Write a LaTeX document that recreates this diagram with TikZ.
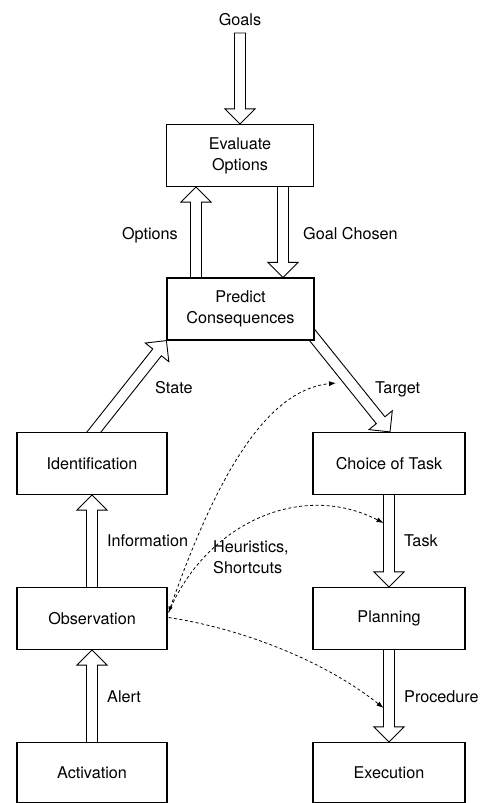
\documentclass[tikz,border=0pt]{standalone}
\usepackage{fontspec}
\setmainfont{TeX Gyre Heros}
\usetikzlibrary{calc,arrows.meta}
\pgfdeclarelayer{bg}
\pgfsetlayers{bg,main}
\newcommand{\hollowarr}[2]{%
  \coordinate (ha) at #1;
  \coordinate (hb) at #2;
  \coordinate (hc) at ($(hb)!15pt!(ha)$);
  \filldraw[harrow] ($(ha)!5.5pt!90:(hb)$) -- ($(hc)!5.5pt!90:(hb)$) -- ($(hc)!15pt!90:(hb)$) -- (hb) -- ($(hc)!15pt!-90:(hb)$) -- ($(hc)!5.5pt!-90:(hb)$) -- ($(ha)!5.5pt!-90:(hb)$) -- cycle;}
\tikzset{
  box/.style={draw, line width=1.2pt, fill=white, minimum width=150pt, minimum height=62pt, align=center, inner sep=0pt, font=\fontsize{16.2}{21}\selectfont},
  lbl/.style={font=\fontsize{16.2}{21}\selectfont, inner sep=0pt},
  harrow/.style={draw, fill=white, line width=0.9pt, line join=miter},
  shortcut/.style={dash pattern=on 3pt off 2.5pt, line width=0.8pt, -{Latex[length=7pt,width=5pt]}}
}
\begin{document}
\begin{tikzpicture}[x=1pt,y=-1pt]
\useasboundingbox (0,0) rectangle (482,803);
% boxes
\node[box, minimum width=147pt] (eval) at (240,155.5) {Evaluate\\Options};
\node[box, minimum width=147pt] (pred) at (240.5,309) {Predict\\Consequences};
\node[box] (ident) at (92,463.5) {Identification};
\node[box, minimum width=152pt] (choice) at (389,463.5) {Choice of Task};
\node[box] (obs) at (92,618.5) {Observation};
\node[box, minimum width=152pt] (plan) at (389,618.5) {Planning};
\node[box, minimum height=60pt] (act) at (92,772.5) {Activation};
\node[box, minimum width=152pt, minimum height=60pt] (exec) at (389,772.5) {Execution};
% labels
\node[lbl, anchor=base] (lgoals) at (240,25) {Goals};
\node[lbl, anchor=base east] (lopt) at (178,239) {Options};
\node[lbl, anchor=base west] (lgoal) at (303,239) {Goal Chosen};
\node[lbl, anchor=base west] (lstate) at (155,393) {State};
\node[lbl, anchor=base west] (ltarget) at (375,393) {Target};
\node[lbl, anchor=base west] (linfo) at (107,546) {Information};
\node[lbl, anchor=west, align=left] (lheur) at (213,557) {Heuristics,\\Shortcuts};
\node[lbl, anchor=base west] (ltask) at (404,546) {Task};
\node[lbl, anchor=base west] (lalert) at (107,702) {Alert};
\node[lbl, anchor=base west] (lproc) at (404,702) {Procedure};
% hollow arrows
\coordinate (goalstop) at (240,33);
\coordinate (sA) at ($(ident.north)+(2,0)$);
\coordinate (tA) at ($(pred.south east)+(2,0)$);
\coordinate (tB) at ($(choice.north)+(1,0)$);
\begin{pgfonlayer}{bg}
\hollowarr{(goalstop)}{(eval.north)}
\hollowarr{($(pred.north)+(-44.5,6)$)}{($(eval.south)+(-44,0)$)}
\hollowarr{($(eval.south)+(43,-6)$)}{($(pred.north)+(42.5,0)$)}
\hollowarr{($(pred.south west)!1.12!(sA)$)}{(pred.south west)}
\hollowarr{($(tB)!1.12!(tA)$)}{(tB)}
\hollowarr{($(choice.south)+(0,-6)$)}{(plan.north)}
\hollowarr{($(plan.south)+(0,-6)$)}{(exec.north)}
\hollowarr{($(obs.north)+(0,6)$)}{(ident.south)}
\hollowarr{($(act.north)+(0,6)$)}{(obs.south)}
\end{pgfonlayer}
% dashed shortcuts
\coordinate (tgtpt) at (336,383);
\coordinate (taskpt) at (383.5,523);
\coordinate (procpt) at (383.5,708);
\draw[shortcut, {Latex[length=6pt,width=4.5pt]}-{Latex[length=7pt,width=5pt]}] ($(obs.east)+(1,-6)$) .. controls (215,480) and (265,390) .. (tgtpt);
\draw[shortcut] ($(obs.east)+(1,-6)$) .. controls (205,525) and (300,480) .. (taskpt);
\draw[shortcut] ($(obs.east)+(1,-1)$) .. controls (250,630) and (330,665) .. (procpt);
\end{tikzpicture}
\end{document}
